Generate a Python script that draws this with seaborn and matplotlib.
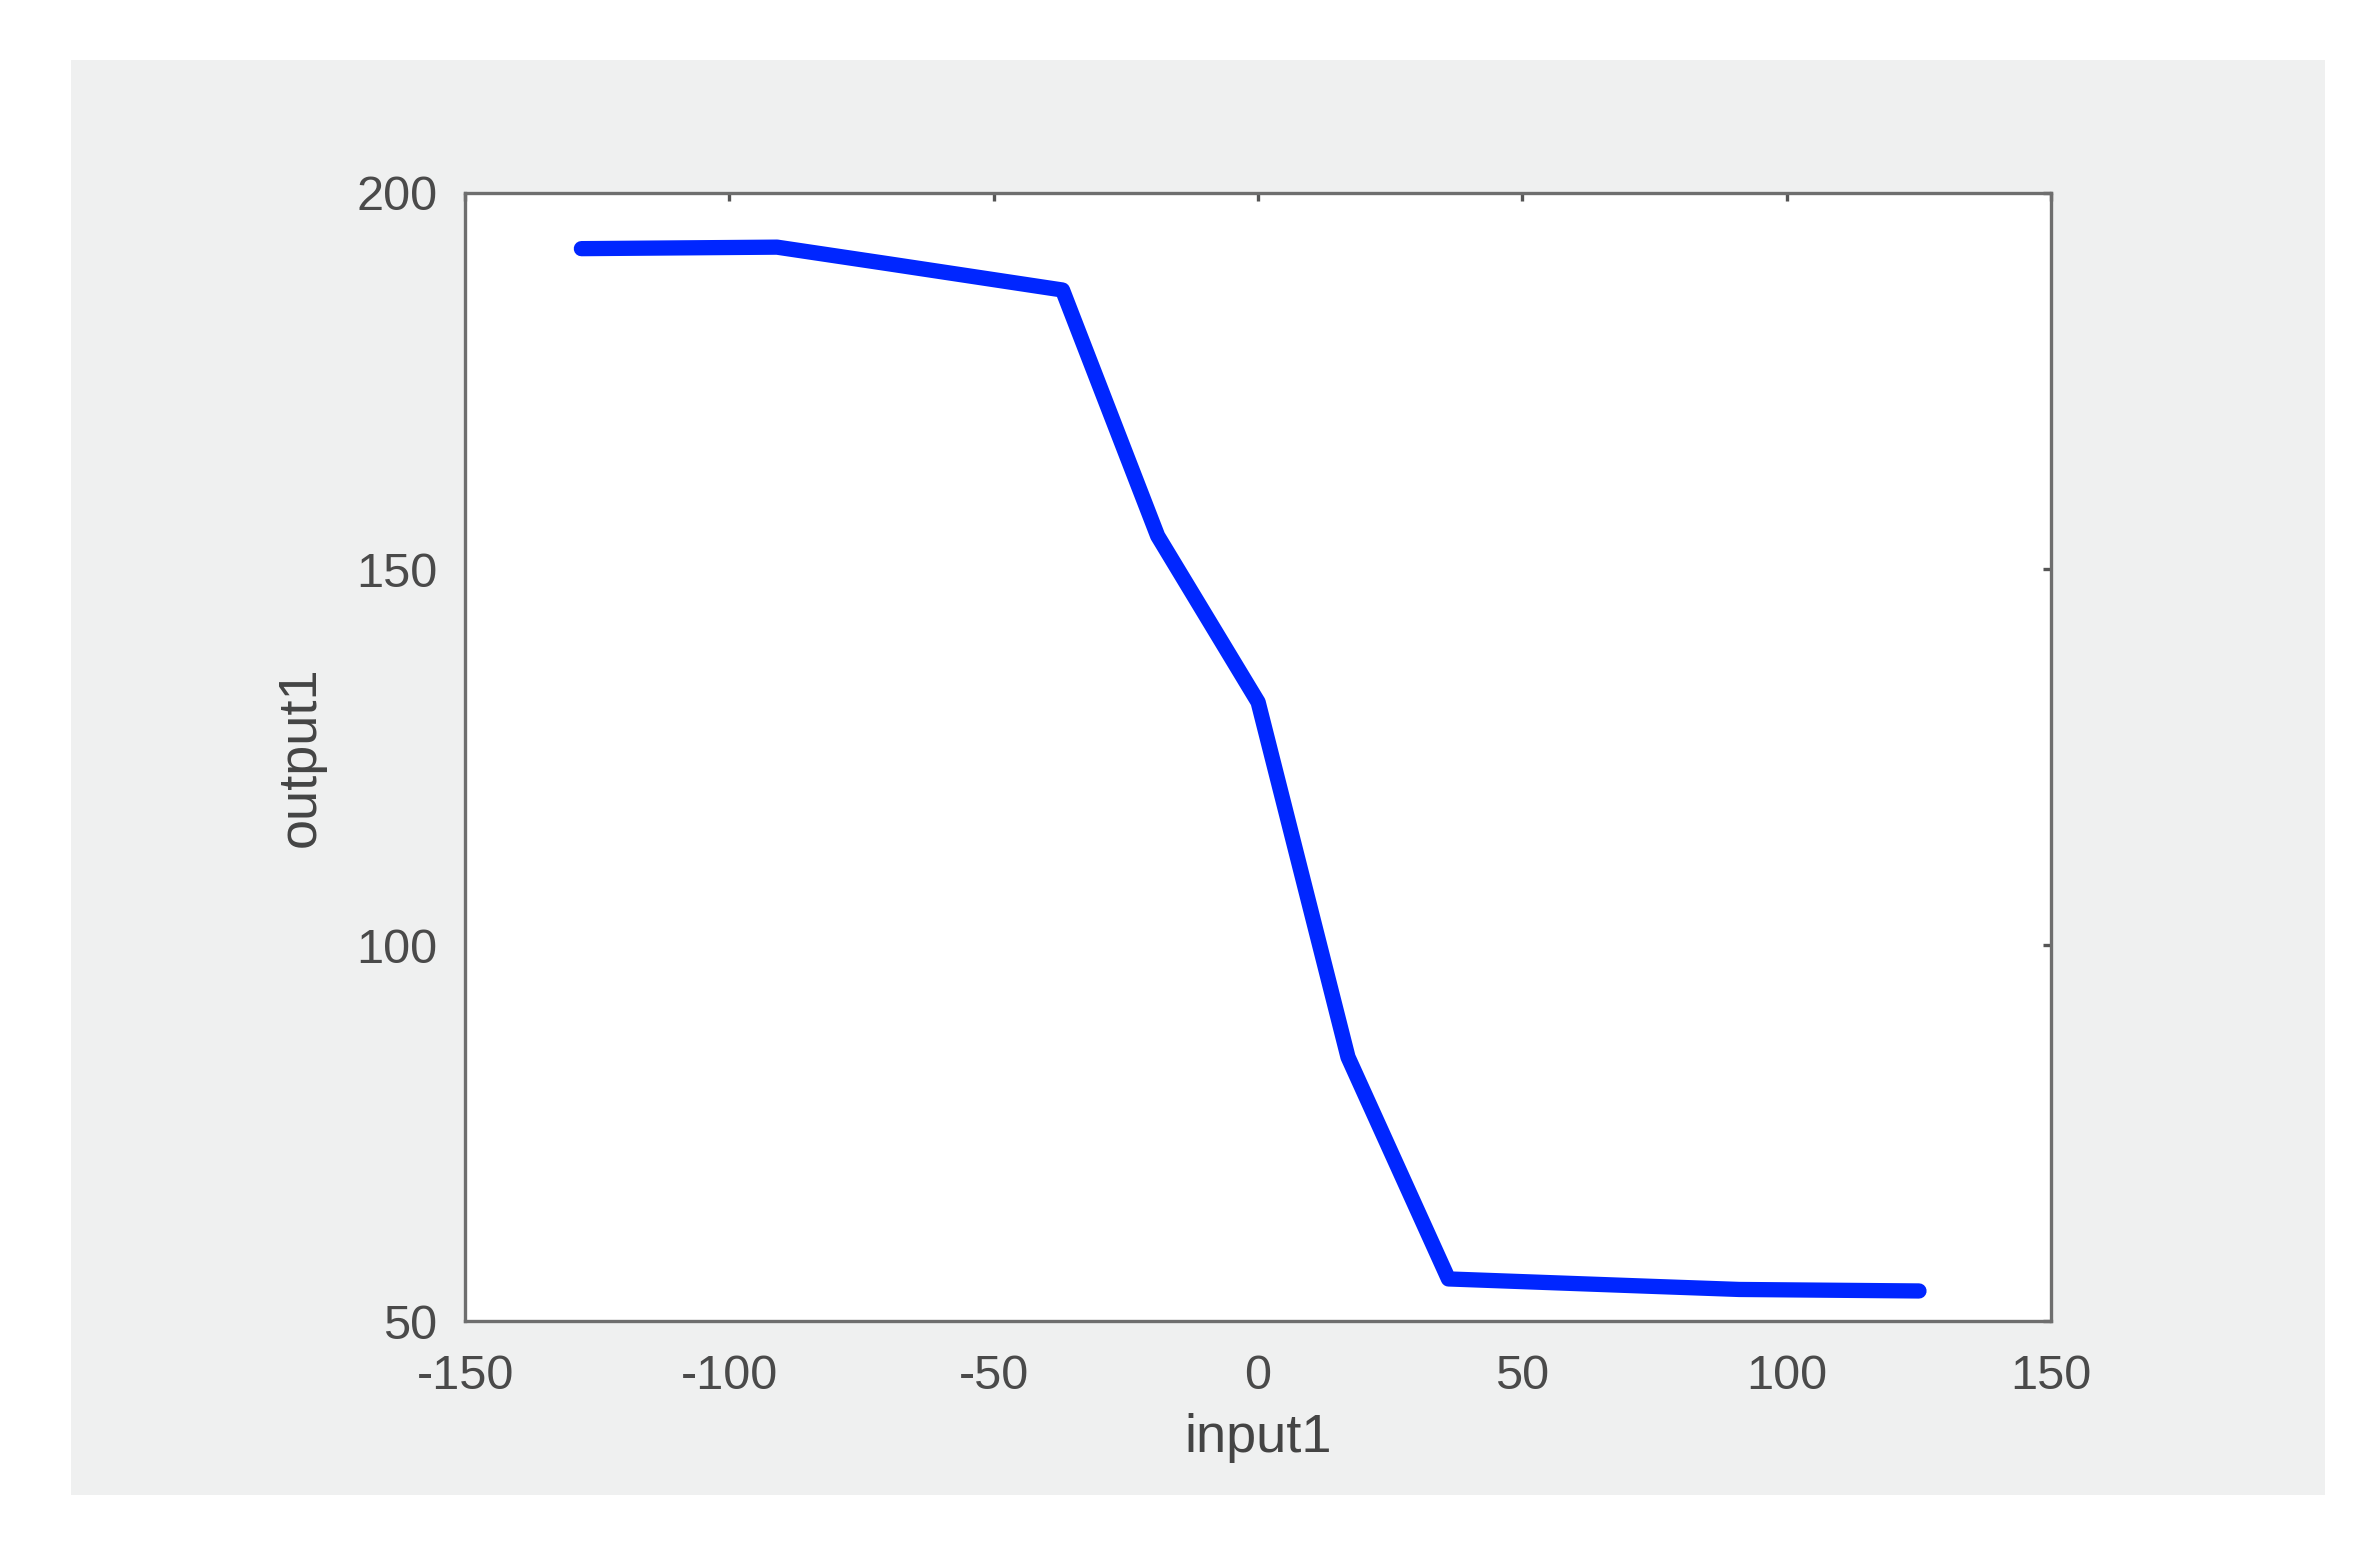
"""
Recreate input1 -> output1 lookup curve
"""

import matplotlib
matplotlib.use("Agg")
import matplotlib.pyplot as plt
import matplotlib.patches as patches
import seaborn as sns
import pandas as pd

# data
input1 = [-128, -91, -70, -37, -19, 0, 17, 36, 75, 91, 125]
output1 = [192.6, 192.8, 190.6, 187.1, 154.4, 132.3, 85.1, 55.6, 54.6, 54.2, 54.0]

x_ticks = [-150, -100, -50, 0, 50, 100, 150]
y_ticks = [50, 100, 150, 200]

sns.set_style("white")
plt.rcParams['font.family'] = ['Liberation Sans', 'DejaVu Sans']

df = pd.DataFrame({'input1': input1, 'output1': output1})

fig = plt.figure(figsize=(23.68, 15.44), dpi=100)
fig.patch.set_facecolor('white')

# grey panel behind the axes
fig.patches.append(patches.Rectangle((0.030, 0.032), 0.952, 0.929,
                                     transform=fig.transFigure,
                                     facecolor='#eff0f0', edgecolor='none',
                                     zorder=-10))

ax = fig.add_axes([0.1964, 0.1444, 0.6698, 0.7306])
ax.set_facecolor('white')

sns.lineplot(data=df, x='input1', y='output1', ax=ax, color='#0026ff',
             linewidth=11, solid_joinstyle='round', solid_capstyle='round',
             sort=False)

ax.set_xlim(-150, 150)
ax.set_ylim(50, 200)
ax.set_xticks(x_ticks)
ax.set_yticks(y_ticks)
ax.set_xticklabels([str(t) for t in x_ticks])
ax.set_yticklabels([str(t) for t in y_ticks])

for s in ax.spines.values():
    s.set_visible(True)
    s.set_color('#6e6e6e')
    s.set_linewidth(2.4)

ax.tick_params(axis='both', which='both', direction='in', length=6, width=2.4,
               color='#555555', top=True, right=True, labelsize=35,
               labelcolor='#4a4a4a')
ax.tick_params(axis='x', pad=24)
ax.tick_params(axis='y', pad=20)

ax.set_xlabel('input1', fontsize=39, color='#444444', labelpad=10)
ax.set_ylabel('output1', fontsize=39, color='#444444', labelpad=22)

plt.savefig('out.png', dpi=100)
plt.close()
